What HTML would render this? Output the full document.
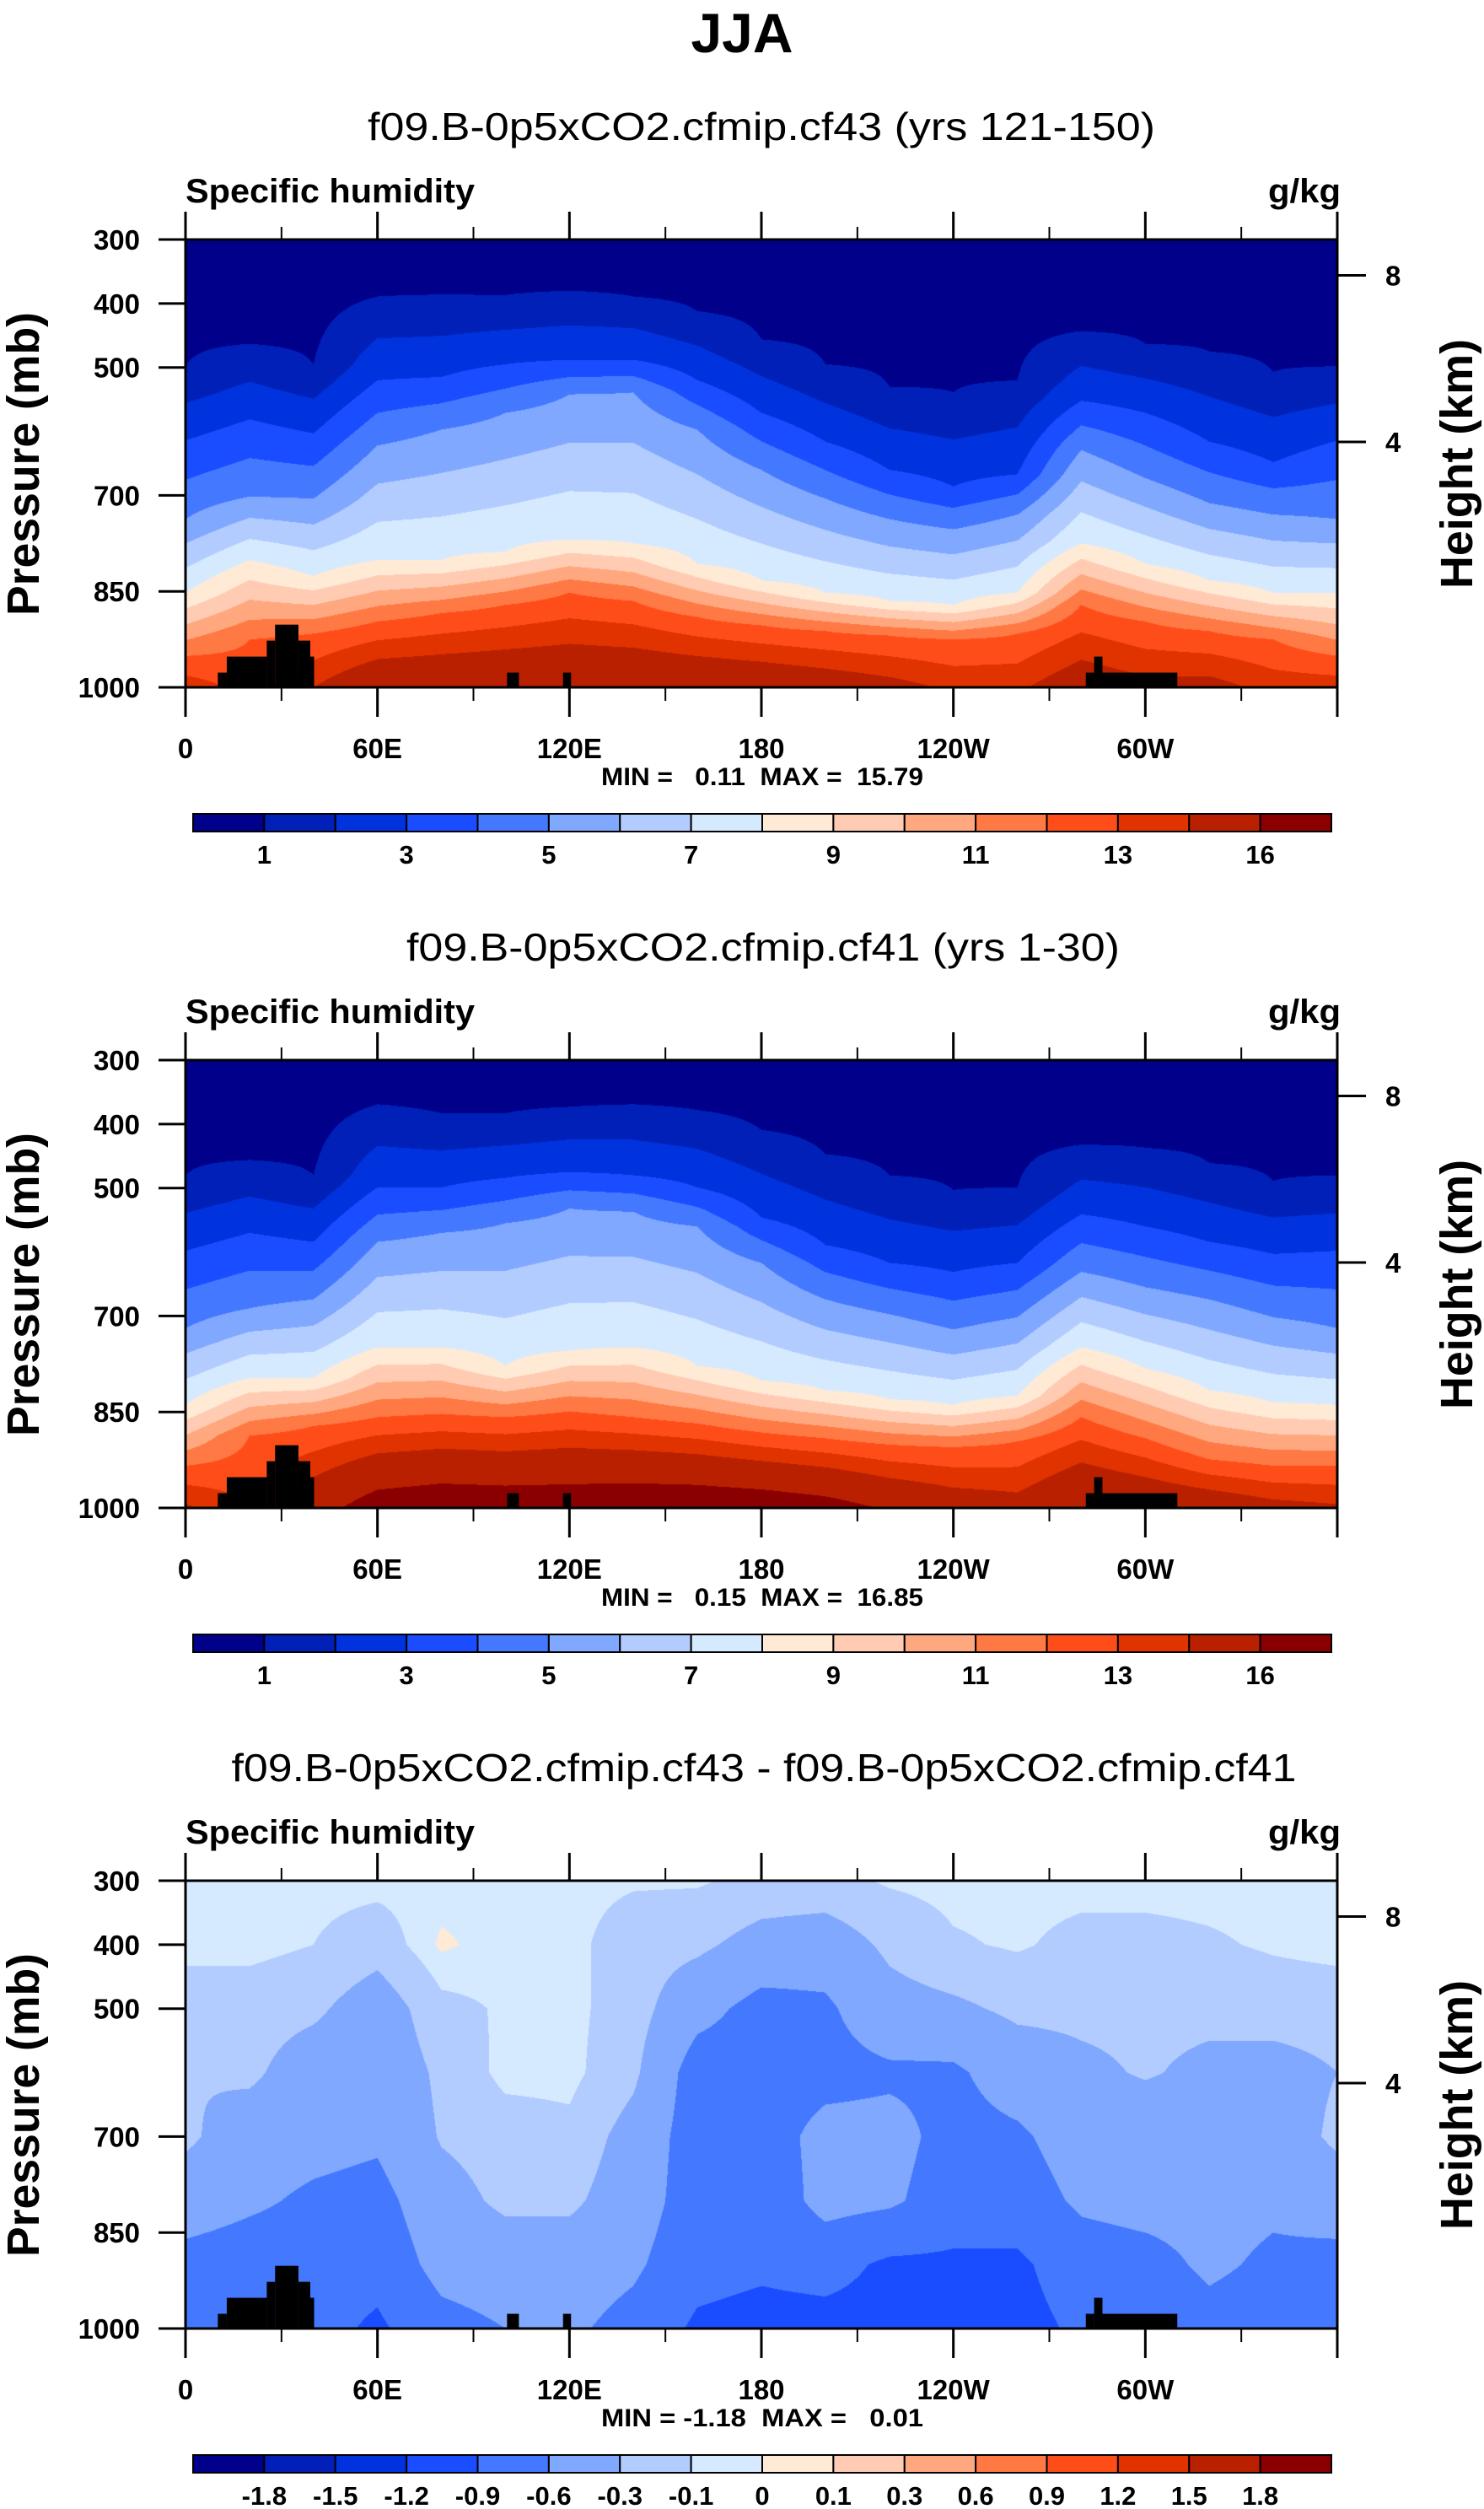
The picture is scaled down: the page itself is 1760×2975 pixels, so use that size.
<!DOCTYPE html>
<html><head><meta charset="utf-8">
<style>
body{margin:0;background:#fff}
#root{position:relative;width:1760px;height:2975px;overflow:hidden;background:#fff}
canvas{position:absolute;left:220px}
svg{position:absolute;left:0;top:0}
text{font-family:"Liberation Sans",Arial,sans-serif;fill:#000}
.pre{white-space:pre}
</style></head>
<body>
<div id="root">
<canvas id="c0" width="1366" height="531" style="top:284px"></canvas>
<canvas id="c1" width="1366" height="531" style="top:1257px"></canvas>
<canvas id="c2" width="1366" height="531" style="top:2230px"></canvas>
<svg id="ov" width="1760" height="2975" viewBox="0 0 1760 2975">
<text x="880" y="62" text-anchor="middle" font-size="66" font-weight="bold">JJA</text>
<text x="903" y="166" text-anchor="middle" font-size="46" textLength="934" lengthAdjust="spacingAndGlyphs">f09.B-0p5xCO2.cfmip.cf43 (yrs 121-150)</text>
<text x="905" y="1139" text-anchor="middle" font-size="46" textLength="846" lengthAdjust="spacingAndGlyphs">f09.B-0p5xCO2.cfmip.cf41 (yrs 1-30)</text>
<text x="906" y="2112" text-anchor="middle" font-size="46" textLength="1263" lengthAdjust="spacingAndGlyphs">f09.B-0p5xCO2.cfmip.cf43 - f09.B-0p5xCO2.cfmip.cf41</text>
</svg>
</div>
<script>
// ---------- data ----------
const lonCols = [0,20,40,60,80,100,120,140,160,180,200,220,240,260,280,300,320,340,360];
const qLevels = [1,2,3,4,5,6,7,8,9,10,11,12,13,14,16];
const dLevels = [-1.8,-1.5,-1.2,-0.9,-0.6,-0.3,-0.1,0,0.1,0.3,0.6,0.9,1.2,1.5,1.8];
const qBarLabelIdx = [1,3,5,7,9,11,13,15];
const pTicks = [300,400,500,700,850,1000];
const hTicks = [8,4];
const lonTicks = [0,60,120,180,240,300];
const lonTickLabels = ["0","60E","120E","180","120W","60W"];
const minMaxText = ["MIN =   0.11  MAX =  15.79","MIN =   0.15  MAX =  16.85","MIN = -1.18  MAX =   0.01"];

// panel 1 (cf43): pressure (mb) of q isolines per longitude, and surface q
const p1Q1  = [498,463,495,389,386,387,380,389,412,456,495,530,539,520,443,463,475,507,498];
const p1Q3  = [614,581,603,520,515,495,488,488,520,571,616,660,686,667,552,571,616,648,614];
const p1Q5  = [737,702,705,622,597,571,542,539,597,660,705,737,753,730,629,673,712,730,737];
const p1Q8  = [852,801,826,801,801,788,769,775,807,833,852,865,871,852,775,807,833,852,852];
const p1Q12 = [951,925,916,897,884,871,852,865,890,903,912,919,925,916,871,897,912,925,951];
const p1Sfc = [13.6,12.6,14,15.5,15.6,15.7,15.7,15.7,15.6,15.4,15.0,14.5,13.8,13.8,15.0,14.4,14.5,13.6,13.6];
// panel 2 (cf41)
const p2Q1  = [480,456,480,369,383,383,373,369,378,409,447,480,503,499,432,437,461,489,480];
const p2Q3  = [598,570,584,499,499,484,475,480,499,546,589,617,631,617,541,560,584,603,598];
const p2Q5  = [719,688,674,584,570,555,532,537,560,617,674,697,721,702,631,655,674,702,719];
const p2Q8  = [839,797,797,749,749,778,754,749,778,801,816,830,839,825,749,782,816,835,839];
const p2Q12 = [934,887,872,858,853,858,849,858,868,882,891,901,905,896,858,891,924,934,934];
const p2Sfc = [14.2,13,15.2,17.0,17.4,17.3,17.3,17.5,17.5,17.3,16.8,15.8,15,14.6,16.0,15.6,15.2,14.5,14.2];
// panel 3 (difference) values at pressure levels, per pressure level across longitudes
const p3Levels = [300,400,500,600,700,800,900,1000];
const d300  = [-0.05,-0.05,-0.05,-0.05,-0.05,-0.05,-0.05,-0.08,-0.08,-0.15,-0.15,-0.08,-0.05,-0.05,-0.05,-0.05,-0.05,-0.05,-0.05];
const d400  = [-0.05,-0.05,-0.1,-0.2,0.02,-0.05,-0.05,-0.2,-0.25,-0.4,-0.45,-0.25,-0.12,-0.08,-0.15,-0.15,-0.12,-0.08,-0.05];
const d500  = [-0.2,-0.2,-0.25,-0.45,-0.15,-0.08,-0.05,-0.2,-0.5,-0.7,-0.65,-0.4,-0.35,-0.25,-0.25,-0.25,-0.25,-0.2,-0.2];
const d600  = [-0.3,-0.25,-0.45,-0.5,-0.25,-0.05,-0.05,-0.25,-0.75,-0.75,-0.7,-0.65,-0.65,-0.45,-0.35,-0.28,-0.35,-0.4,-0.3];
const d700  = [-0.25,-0.45,-0.5,-0.55,-0.28,-0.2,-0.15,-0.4,-0.75,-0.75,-0.5,-0.5,-0.7,-0.65,-0.45,-0.45,-0.45,-0.45,-0.25];
const d800  = [-0.45,-0.55,-0.65,-0.7,-0.4,-0.25,-0.25,-0.45,-0.75,-0.8,-0.5,-0.55,-0.75,-0.75,-0.55,-0.5,-0.5,-0.55,-0.45];
const d900  = [-0.7,-0.75,-0.75,-0.8,-0.5,-0.45,-0.45,-0.55,-0.8,-0.85,-0.8,-0.95,-0.95,-0.95,-0.75,-0.7,-0.55,-0.65,-0.7];
const d1000 = [-0.75,-0.8,-0.8,-0.95,-0.7,-0.6,-0.55,-0.7,-0.95,-1.0,-1.0,-1.0,-1.0,-1.0,-0.85,-0.8,-0.7,-0.75,-0.75];
// topography blocks (lon start, lon end, top pressure)
const topoLon0 = [10.1,12.9,25.4,28,35.3,39,100.5,118,281.4,284,286.6];
const topoLon1 = [12.9,25.4,28,35.3,39,40.2,104.2,120.5,284,286.6,310];
const topoP    = [977,952,927,902,927,952,977,977,977,952,977];

const palette = ["#00008a","#0020b8","#0033dd","#1a4dff","#4479ff","#80a8ff","#b3ccff","#d6eaff",
                 "#ffead6","#ffccb3","#ffa880","#ff7944","#ff4d1a","#e03300","#b82000","#8a0000"];
const panelTops = [284,1257,2230];
const X0 = 220, W = 1366, H = 531;

// ---------- axis functions ----------
function xOf(lon){ return X0 + lon/360*W; }
function yOf(p, top){ return top + (p-300)/700*H; }
function pOfHeight(km){ return 1013.25*Math.pow(1-2.25577e-5*km*1000, 5.25588); }

function profVal(P, V, p){
  if (p <= P[0]) return V[0];
  for (let i=1;i<P.length;i++){
    if (p <= P[i]) return V[i-1] + (V[i]-V[i-1])*(p-P[i-1])/(P[i]-P[i-1]);
  }
  return V[V.length-1];
}
function colIdx(v, levels){ let k=0; while(k<levels.length && v>=levels[k]) k++; return k; }
function hexRGB(h){ return [parseInt(h.substr(1,2),16),parseInt(h.substr(3,2),16),parseInt(h.substr(5,2),16)]; }
const palRGB = palette.map(hexRGB);

function columnFn(panel, j){
  if (panel===2){
    const col = [d300[j],d400[j],d500[j],d600[j],d700[j],d800[j],d900[j],d1000[j]];
    return p => profVal(p3Levels, col, p);
  }
  const Q1 = panel===0?p1Q1:p2Q1, Q3 = panel===0?p1Q3:p2Q3, Q5 = panel===0?p1Q5:p2Q5,
        Q8 = panel===0?p1Q8:p2Q8, Q12 = panel===0?p1Q12:p2Q12, S = panel===0?p1Sfc:p2Sfc;
  const P = [300,Q1[j],Q3[j],Q5[j],Q8[j],Q12[j],1000];
  const V = [0.3,1,3,5,8,12,S[j]];
  return p => profVal(P, V, p);
}

function drawField(panel){
  const cv = document.getElementById('c'+panel);
  const ctx = cv.getContext('2d');
  const img = ctx.createImageData(W, H);
  const levels = panel===2 ? dLevels : qLevels;
  const fns = lonCols.map((_,j)=>columnFn(panel,j));
  const vals = new Array(lonCols.length);
  for (let py=0; py<H; py++){
    const p = 300 + (py+0.5)/H*700;
    for (let j=0;j<lonCols.length;j++) vals[j]=fns[j](p);
    for (let px=0; px<W; px++){
      const lon = (px+0.5)/W*360;
      let j = Math.min(lonCols.length-2, Math.floor(lon/20));
      const t = (lon-lonCols[j])/(lonCols[j+1]-lonCols[j]);
      const v = vals[j]*(1-t)+vals[j+1]*t;
      const c = palRGB[colIdx(v, levels)];
      const o = (py*W+px)*4;
      img.data[o]=c[0]; img.data[o+1]=c[1]; img.data[o+2]=c[2]; img.data[o+3]=255;
    }
  }
  ctx.putImageData(img,0,0);
}

const NS = "http://www.w3.org/2000/svg";
const ov = document.getElementById('ov');
function mk(tag, attrs, txt){
  const e = document.createElementNS(NS, tag);
  for (const k in attrs) e.setAttribute(k, attrs[k]);
  if (txt!==undefined) e.textContent = txt;
  ov.appendChild(e);
  return e;
}

for (let k=0;k<3;k++){
  drawField(k);
  const top = panelTops[k], bot = top+H, off = k*973;
  for (let i=0;i<topoP.length;i++){
    const r = mk('rect',{x:xOf(topoLon0[i]),y:yOf(topoP[i],top),width:xOf(topoLon1[i])-xOf(topoLon0[i]),height:bot-yOf(topoP[i],top),fill:'#000'});
    
    
  }
  const fr = mk('rect',{x:X0,y:top,width:W,height:H,fill:'none',stroke:'#000','stroke-width':3});
  
  
  pTicks.forEach(p=>{
    const y = yOf(p,top);
    const tl = mk('line',{x1:188,x2:X0,y1:y,y2:y,stroke:'#000','stroke-width':3});
    
    
    const lb = mk('text',{x:166,y:y+12,'text-anchor':'end','font-size':33,'font-weight':'bold'},String(p));
    
    
  });
  hTicks.forEach(h=>{
    const y = yOf(pOfHeight(h),top);
    const tl = mk('line',{x1:X0+W,x2:X0+W+34,y1:y,y2:y,stroke:'#000','stroke-width':3});
    
    
    const lb = mk('text',{x:1643,y:y+12,'font-size':33,'font-weight':'bold'},String(h));
    
    
  });
  for (let lon=0; lon<=360; lon+=30){
    const major = lon%60===0, x = xOf(lon);
    const tt = mk('line',{x1:x,x2:x,y1:top,y2:top-(major?33:15),stroke:'#000','stroke-width':major?3:2});
    
    
    const tb = mk('line',{x1:x,x2:x,y1:bot,y2:bot+(major?35:16),stroke:'#000','stroke-width':major?3:2});
    
    
  }
  lonTicks.forEach((lon,i)=>{
    const lb = mk('text',{x:xOf(lon),y:899+off,'text-anchor':'middle','font-size':33,'font-weight':'bold'},lonTickLabels[i]);
    
    
  });
  const sh = mk('text',{x:220,y:240+off,'font-size':40,'font-weight':'bold',textLength:343,lengthAdjust:'spacingAndGlyphs'},'Specific humidity');
  
  
  const un = mk('text',{x:1590,y:240+off,'text-anchor':'end','font-size':40,'font-weight':'bold',textLength:86,lengthAdjust:'spacingAndGlyphs'},'g/kg');
  
  
  const pl = mk('text',{x:0,y:0,transform:`translate(46,${550+off}) rotate(-90)`,'text-anchor':'middle','font-size':54,'font-weight':'bold',textLength:360,lengthAdjust:'spacingAndGlyphs'},'Pressure (mb)');
  
  
  const hl = mk('text',{x:0,y:0,transform:`translate(1746,${550+off}) rotate(-90)`,'text-anchor':'middle','font-size':54,'font-weight':'bold',textLength:296,lengthAdjust:'spacingAndGlyphs'},'Height (km)');
  
  
  const mm = mk('text',{x:904,y:931+off,'text-anchor':'middle','font-size':30,'font-weight':'bold','class':'pre',textLength:382,lengthAdjust:'spacingAndGlyphs'},minMaxText[k]);
  
  
  const bx = 229, bw = 1350/16, by = 965+off;
  for (let i=0;i<16;i++){
    const r = mk('rect',{x:bx+i*bw,y:by,width:bw,height:21,fill:palette[i],stroke:'#000','stroke-width':2});
    
    
  }
  const idxs = k===2 ? dLevels.map((_,i)=>i+1) : qBarLabelIdx;
  const lev = k===2 ? dLevels : qLevels;
  idxs.forEach(b=>{
    const lb = mk('text',{x:bx+b*bw,y:1024+off,'text-anchor':'middle','font-size':31,'font-weight':'bold'},String(lev[b-1]));
    
    
  });
}
</script>
</body></html>
